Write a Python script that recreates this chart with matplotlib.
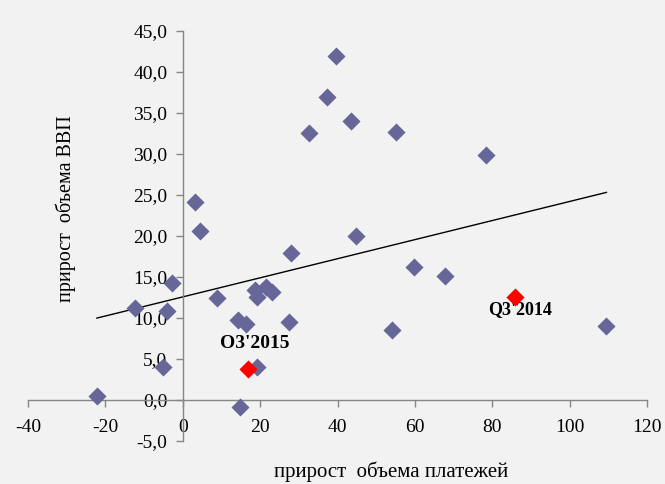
import numpy as np
import matplotlib.pyplot as plt

plt.rcParams['font.family'] = ['Liberation Serif', 'DejaVu Serif']
plt.rcParams['axes.unicode_minus'] = False

# прирост объема платежей / прирост объема ВВП
pay_growth = [-22.2, -12.4, -5.2, -4.1, -2.8, 3.1, 4.4, 8.8, 14.4, 16.3, 19.1,
              14.7, 18.8, 19.1, 21.4, 23.0, 27.9, 27.4, 32.5, 37.2, 39.7, 43.6,
              44.9, 55.2, 54.2, 59.7, 67.9, 78.5, 109.5]
gdp_growth = [0.5, 11.2, 4.0, 10.9, 14.3, 24.2, 20.6, 12.4, 9.8, 9.3, 4.0,
              -0.8, 13.4, 12.6, 13.8, 13.2, 17.9, 9.5, 32.6, 37.0, 42.0, 34.0,
              20.0, 32.7, 8.5, 16.2, 15.1, 29.9, 9.0]

hl_labels = ["O3'2015", "Q3'2014"]
hl_x = [16.8, 85.8]
hl_y = [3.8, 12.6]

x_ticks = [-40, -20, 0, 20, 40, 60, 80, 100, 120]
y_ticks = [-5, 0, 5, 10, 15, 20, 25, 30, 35, 40, 45]

bg = '#F2F2F2'
axis_col = '#868686'

fig = plt.figure(figsize=(6.65, 4.84), dpi=100, facecolor=bg)
ax = fig.add_axes([0.0421, 0.0888, 0.9309, 0.8472], facecolor=bg)

ax.scatter(pay_growth, gdp_growth, marker='D', s=85, color='#666699',
           linewidths=0, zorder=3)
ax.scatter(hl_x, hl_y, marker='D', s=85, color='#FF0000',
           linewidths=0, zorder=4)

# линейный тренд
all_x = np.array(pay_growth + hl_x)
all_y = np.array(gdp_growth + hl_y)
k, b = np.polyfit(all_x, all_y, 1)
xt = np.array([all_x.min(), all_x.max()])
ax.plot(xt, k * xt + b, color='black', lw=1.0, zorder=2)

ax.text(hl_x[0] + 1.8, hl_y[0] + 3.15, hl_labels[0], fontsize=14,
        fontweight='bold', ha='center', va='center')
ax.text(hl_x[1] + 1.4, hl_y[1] - 1.6, hl_labels[1], fontsize=13,
        fontweight='bold', ha='center', va='center')

ax.set_xlim(-40, 120)
ax.set_ylim(-5, 45)
ax.set_xticks(x_ticks)
ax.set_yticks(y_ticks)
ax.set_xticklabels([str(t) for t in x_ticks])
ax.set_yticklabels([f"{t:.1f}".replace('.', ',') for t in y_ticks])

ax.spines['left'].set_position(('data', 0))
ax.spines['bottom'].set_position(('data', 0))
ax.spines['right'].set_visible(False)
ax.spines['top'].set_visible(False)
for s in ('left', 'bottom'):
    ax.spines[s].set_color(axis_col)
    ax.spines[s].set_linewidth(1.0)
ax.tick_params(axis='both', direction='out', length=5, width=1.0,
               color=axis_col, labelsize=14, labelcolor='black')
ax.tick_params(axis='x', pad=9)
ax.tick_params(axis='y', pad=6)

fig.text(0.099, 0.568, 'прирост  объема ВВП', rotation=90, fontsize=14.5,
         ha='center', va='center')
fig.text(0.588, 0.014, 'прирост  объема платежей', fontsize=15,
         ha='center', va='baseline')

fig.savefig('out.png', dpi=100, facecolor=bg)
